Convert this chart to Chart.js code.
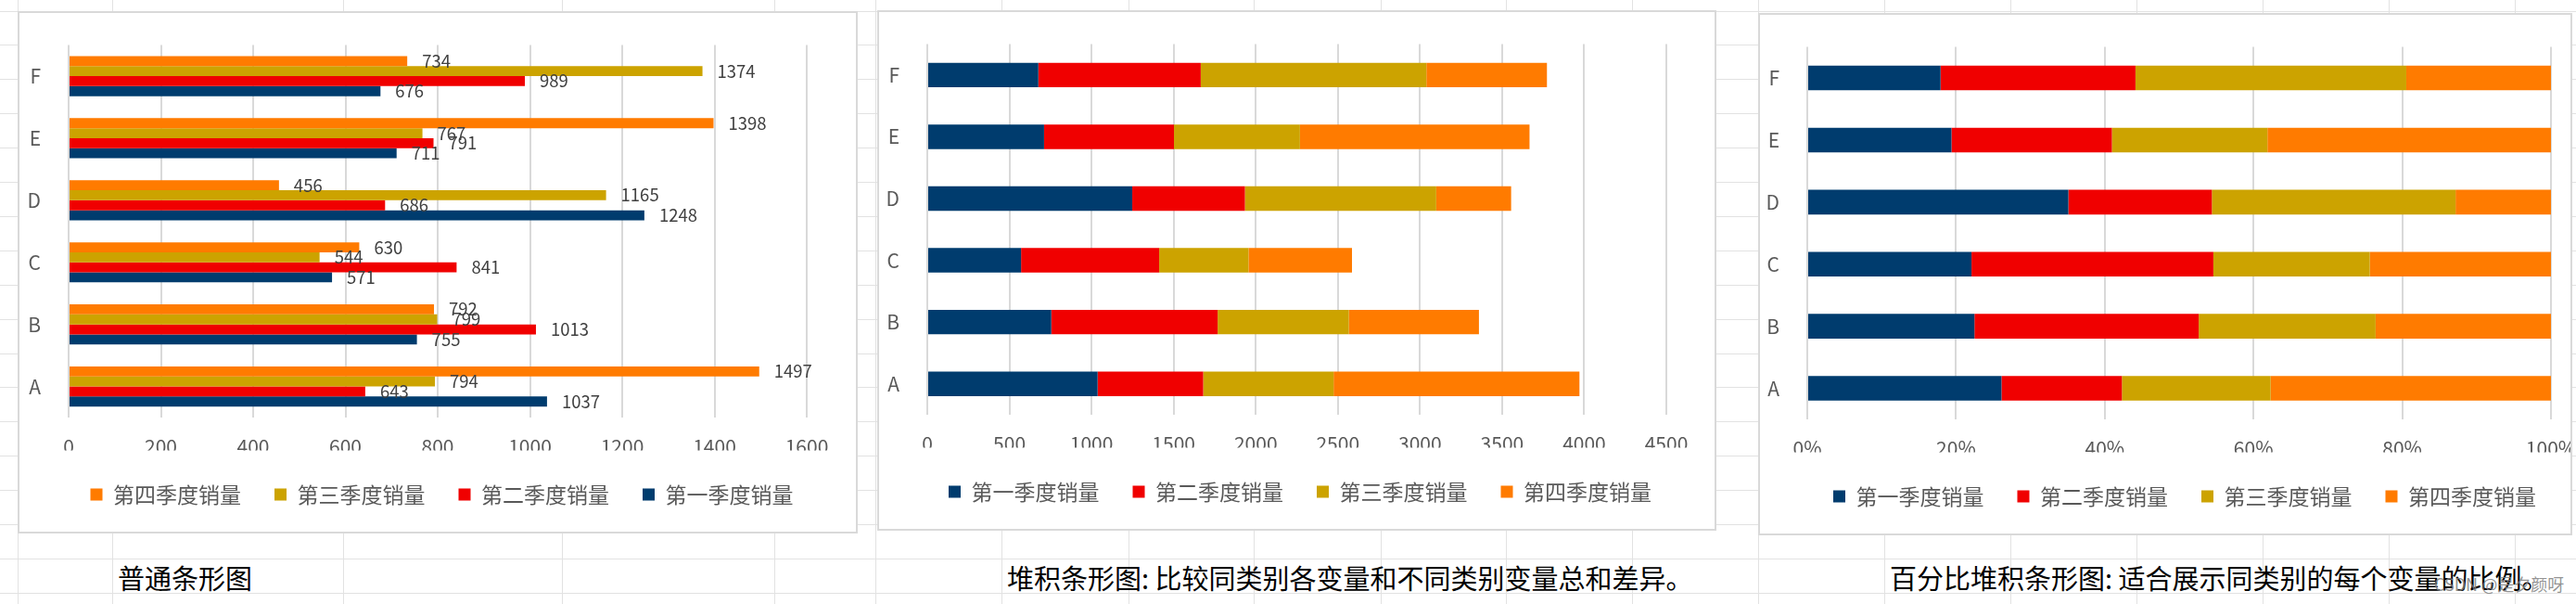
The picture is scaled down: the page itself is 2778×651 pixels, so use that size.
<!DOCTYPE html>
<html>
<head>
<meta charset="utf-8">
<script src="https://cdn.jsdelivr.net/npm/chart.js@4.4.1/dist/chart.umd.min.js"></script>
<style>
  html, body { margin: 0; padding: 0; width: 2778px; height: 651px; overflow: hidden; background: #fff; }
  .hl { position: absolute; left: 0; width: 2778px; height: 1px; background: #e2e2e2; }
  .vl { position: absolute; top: 0; width: 1px; height: 651px; background: #e2e2e2; }
  .box { position: absolute; background: #fff; border: 2px solid #d9d9d9; box-sizing: border-box; overflow: hidden; }
  .box canvas { position: absolute; left: 0; top: 0; }
  .cap { position: absolute; font-family: 'Noto Sans CJK SC', sans-serif; font-size: 29px; line-height: 1; color: #000; white-space: nowrap; }
  .mark { position: absolute; font-family: 'Noto Sans CJK SC', sans-serif; font-size: 18px; line-height: 1; color: rgba(128,128,128,0.85); white-space: nowrap; }
</style>
</head>
<body>
<div id="sheet"></div>

<div class="box" style="left:19px; top:12px; width:906px; height:563px;">
  <canvas id="c1" width="911" height="559"></canvas>
</div>
<div class="box" style="left:946px; top:11px; width:905px; height:561px;">
  <canvas id="c2" width="908" height="557"></canvas>
</div>
<div class="box" style="left:1896px; top:14px; width:878px; height:563px;">
  <canvas id="c3" width="916" height="559"></canvas>
</div>

<div class="cap" style="left:127px; top:608px;">普通条形图</div>
<div class="cap" style="left:1086px; top:608px;">堆积条形图: 比较同类别各变量和不同类别变量总和差异。</div>
<div class="cap" style="left:2038px; top:608px;">百分比堆积条形图: 适合展示同类别的每个变量的比例。</div>
<div class="mark" style="left:2625px; top:620px;">CSDN @是夕颜呀</div>

<script>
// 数据
const categories = ['A', 'B', 'C', 'D', 'E', 'F'];
const seriesNames = ['第一季度销量', '第二季度销量', '第三季度销量', '第四季度销量'];
const q1 = [1037, 755, 571, 1248, 711, 676];
const q2 = [643, 1013, 841, 686, 791, 989];
const q3 = [794, 799, 544, 1165, 767, 1374];
const q4 = [1497, 792, 630, 456, 1398, 734];
const seriesColors = ['#003C6E', '#F00000', '#CCA300', '#FF7B00'];
const axisMax = [1600, 4500, 100];
const axisStep = [200, 500, 20];

// 背景表格线
const sheet = document.getElementById('sheet');
for (let k = 0; k < 18; k++) {
    const d = document.createElement('div');
    d.className = 'hl';
    d.style.top = Math.round(11.5 + 36.9 * k) + 'px';
    sheet.appendChild(d);
}
[19, 121, 370, 606, 835, 944, 1080, 1217, 1352, 1489, 1624, 1760, 1896, 2032, 2168, 2304, 2440, 2576, 2712].forEach(x => {
    const d = document.createElement('div');
    d.className = 'vl';
    d.style.left = x + 'px';
    sheet.appendChild(d);
});

Chart.defaults.font.family = "'Noto Sans CJK SC', 'Noto Sans', sans-serif";
Chart.defaults.color = '#595959';

const series = [q1, q2, q3, q4];
const totals = categories.map((c, i) => q1[i] + q2[i] + q3[i] + q4[i]);

// 数据标签 (只用于普通条形图)
const valueLabels = {
    id: 'valueLabels',
    afterDatasetsDraw(chart) {
        const ctx = chart.ctx;
        ctx.save();
        ctx.font = "18.5px 'Noto Sans CJK SC', sans-serif";
        ctx.fillStyle = '#404040';
        ctx.textAlign = 'left';
        ctx.textBaseline = 'middle';
        chart.data.datasets.forEach((ds, i) => {
            chart.getDatasetMeta(i).data.forEach((bar, j) => {
                ctx.fillText(ds.data[j], bar.x + 16, bar.y);
            });
        });
        ctx.restore();
    }
};

function makeOptions(p) {
    return {
        indexAxis: 'y',
        responsive: false,
        animation: false,
        layout: { padding: { left: 0, right: 0, top: p.top, bottom: 18.5 } },
        plugins: {
            legend: {
                position: 'bottom',
                labels: { boxWidth: 13, boxHeight: 13, padding: 36, color: '#595959', font: { size: 23 } }
            },
            tooltip: { enabled: false }
        },
        scales: {
            x: {
                min: 0, max: p.max, stacked: p.stacked,
                border: { display: false },
                grid: { color: '#d9d9d9', lineWidth: 2, drawTicks: false },
                ticks: { stepSize: p.step, padding: 18, color: '#595959', font: { size: 21 }, callback: p.fmt },
                afterFit: s => { s.height = 35.5; s.paddingRight = p.padRight; }
            },
            y: {
                reverse: true, stacked: p.stacked,
                border: { display: false },
                grid: { display: false },
                ticks: { padding: 22, color: '#595959', font: { size: 21 } },
                afterFit: s => { s.width = p.yWidth; }
            }
        }
    };
}

// 普通条形图
const order1 = [3, 2, 1, 0];
new Chart(document.getElementById('c1'), {
    type: 'bar',
    data: {
        labels: categories,
        datasets: order1.map(k => ({
            label: seriesNames[k],
            data: series[k],
            backgroundColor: seriesColors[k],
            borderWidth: 0,
            categoryPercentage: 0.645,
            barPercentage: 1
        }))
    },
    options: makeOptions({ top: 28, max: axisMax[0], step: axisStep[0], stacked: false, padRight: 62, yWidth: 53, fmt: v => v }),
    plugins: [valueLabels]
});

// 堆积条形图
new Chart(document.getElementById('c2'), {
    type: 'bar',
    data: {
        labels: categories,
        datasets: series.map((s, k) => ({
            label: seriesNames[k],
            data: s,
            backgroundColor: seriesColors[k],
            borderWidth: 0,
            categoryPercentage: 1,
            barPercentage: 0.397
        }))
    },
    options: makeOptions({ top: 27, max: axisMax[1], step: axisStep[1], stacked: true, padRight: 59, yWidth: 52, fmt: v => v })
});

// 百分比堆积条形图
new Chart(document.getElementById('c3'), {
    type: 'bar',
    data: {
        labels: categories,
        datasets: series.map((s, k) => ({
            label: seriesNames[k],
            data: s.map((v, i) => v / totals[i] * 100),
            backgroundColor: seriesColors[k],
            borderWidth: 0,
            categoryPercentage: 1,
            barPercentage: 0.397
        }))
    },
    options: makeOptions({ top: 28, max: axisMax[2], step: axisStep[2], stacked: true, padRight: 63, yWidth: 51, fmt: v => v + '%' })
});
</script>
</body>
</html>
